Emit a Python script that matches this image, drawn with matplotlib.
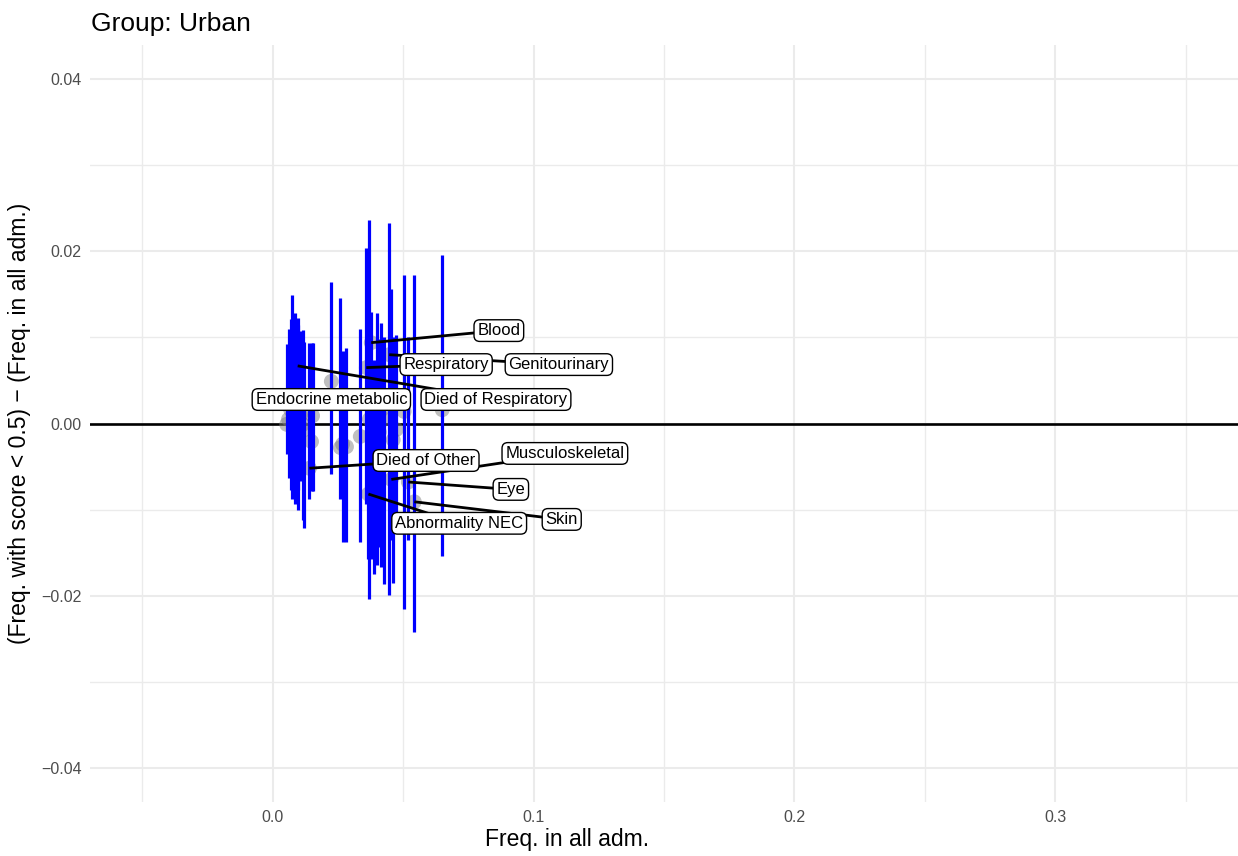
import matplotlib
matplotlib.use("Agg")
import matplotlib.pyplot as plt
from matplotlib.ticker import FixedLocator, FuncFormatter

plt.rcParams['font.family'] = ['Liberation Sans', 'DejaVu Sans']

# ---- data ----
freq = [0.0054, 0.0061, 0.0069, 0.0076, 0.0084, 0.0096, 0.0099, 0.0107, 0.0115,
        0.0122, 0.0141, 0.0149, 0.0153, 0.0225, 0.0260, 0.0268, 0.0283, 0.0336,
        0.0359, 0.0371, 0.0378, 0.0367, 0.0390, 0.0401, 0.0409, 0.0417, 0.0428,
        0.0447, 0.0455, 0.0462, 0.0474, 0.0520, 0.0504, 0.0543, 0.0650]
diff = [-0.0001, 0.0005, 0.0016, 0.0022, 0.0005, 0.0067, -0.0007, 0.0010, -0.0001,
        -0.0007, -0.0052, -0.0021, 0.0009, 0.0049, -0.0028, -0.0024, -0.0027, -0.0015,
        0.0065, 0.0005, 0.0094, -0.0082, -0.0001, -0.0007, -0.0010, 0.0016, 0.0005,
        0.0080, -0.0065, -0.0019, -0.0007, -0.0068, 0.0014, -0.0091, 0.0016]
upper = [0.0092, 0.0110, 0.0121, 0.0149, 0.0128, 0.0123, 0.0115, 0.0107, 0.0109,
         0.0095, 0.0094, 0.0094, 0.0094, 0.0165, 0.0146, 0.0084, 0.0088, 0.0110,
         0.0204, 0.0237, 0.0130, 0.0098, 0.0074, 0.0128, 0.0098, 0.0117, 0.0101,
         0.0233, 0.0156, 0.0101, 0.0103, 0.0101, 0.0173, 0.0173, 0.0196]
lower = [-0.0036, -0.0063, -0.0077, -0.0088, -0.0094, -0.0077, -0.0100, -0.0067, -0.0112,
         -0.0121, -0.0088, -0.0079, -0.0079, -0.0059, -0.0088, -0.0138, -0.0138, -0.0138,
         -0.0094, -0.0204, -0.0158, -0.0158, -0.0175, -0.0164, -0.0144, -0.0167, -0.0187,
         -0.0199, -0.0135, -0.0185, -0.0117, -0.0135, -0.0216, -0.0242, -0.0154]
names = ["", "", "", "", "", "Died of Respiratory", "", "", "",
         "", "Died of Other", "", "Endocrine metabolic", "", "", "", "", "",
         "Respiratory", "", "Blood", "Abnormality NEC", "", "", "", "", "",
         "Genitourinary", "Musculoskeletal", "", "", "Eye", "", "Skin", ""]

# label placement (layout, data coords)
label_pos = {
    "Blood": (0.0867, 0.0108),
    "Respiratory": (0.0665, 0.00685),
    "Genitourinary": (0.1097, 0.00685),
    "Died of Respiratory": (0.0856, 0.00279),
    "Endocrine metabolic": (0.0225, 0.00279),
    "Died of Other": (0.0588, -0.0043),
    "Musculoskeletal": (0.1120, -0.00348),
    "Eye": (0.0913, -0.00766),
    "Skin": (0.1108, -0.01115),
    "Abnormality NEC": (0.0715, -0.0116),
}
no_segment = {"Endocrine metabolic"}

fig = plt.figure(figsize=(12.38, 8.56), dpi=100)
ax = fig.add_axes([0.0727, 0.0631, 0.9273, 0.8843])

ax.set_xlim(-0.07, 0.37)
ax.set_ylim(-0.044, 0.044)

ax.xaxis.set_major_locator(FixedLocator([0.0, 0.1, 0.2, 0.3]))
ax.xaxis.set_minor_locator(FixedLocator([-0.05, 0.05, 0.15, 0.25, 0.35]))
ax.yaxis.set_major_locator(FixedLocator([-0.04, -0.02, 0.0, 0.02, 0.04]))
ax.yaxis.set_minor_locator(FixedLocator([-0.03, -0.01, 0.01, 0.03]))
ax.xaxis.set_major_formatter(FuncFormatter(lambda v, p: f"{v:.1f}".replace("-", "\u2212")))
ax.yaxis.set_major_formatter(FuncFormatter(lambda v, p: ("\u2212" if v < -1e-12 else "") + f"{abs(v):.2f}"))

ax.grid(True, which='major', color='#EBEBEB', lw=1.5)
ax.grid(True, which='minor', color='#EBEBEB', lw=1.0)
ax.set_axisbelow(True)
for s in ax.spines.values():
    s.set_visible(False)
ax.tick_params(which='both', length=0, labelsize=11.5, labelcolor='#4D4D4D', pad=6)

ax.axhline(0, color='black', lw=1.9, zorder=2)
ax.scatter(freq, diff, s=115, color='gray', alpha=0.5, edgecolors='none', zorder=3)
ax.vlines(freq, lower, upper, color='blue', lw=2.3, zorder=4)

for x, y, n in zip(freq, diff, names):
    if not n:
        continue
    lx, ly = label_pos[n]
    if n not in no_segment:
        ax.plot([x, lx], [y, ly], color='black', lw=2.0, zorder=5, solid_capstyle='butt')
    ax.text(lx, ly, n, ha='center', va='center', fontsize=12, color='black', zorder=6,
            bbox=dict(boxstyle='round,pad=0.2,rounding_size=0.35', fc='white', ec='black', lw=1.0))

ax.set_xlabel("Freq. in all adm.", fontsize=16.5)
ax.xaxis.set_label_coords(0.4155, -0.034)
ax.set_ylabel("(Freq. with score < 0.5) \u2212 (Freq. in all adm.)", fontsize=16.5)
ax.yaxis.set_label_coords(-0.051, 0.5)
fig.text(0.0735, 0.972, "Group: Urban", fontsize=19, ha='left', va='center')

fig.savefig("out.png", dpi=100)
